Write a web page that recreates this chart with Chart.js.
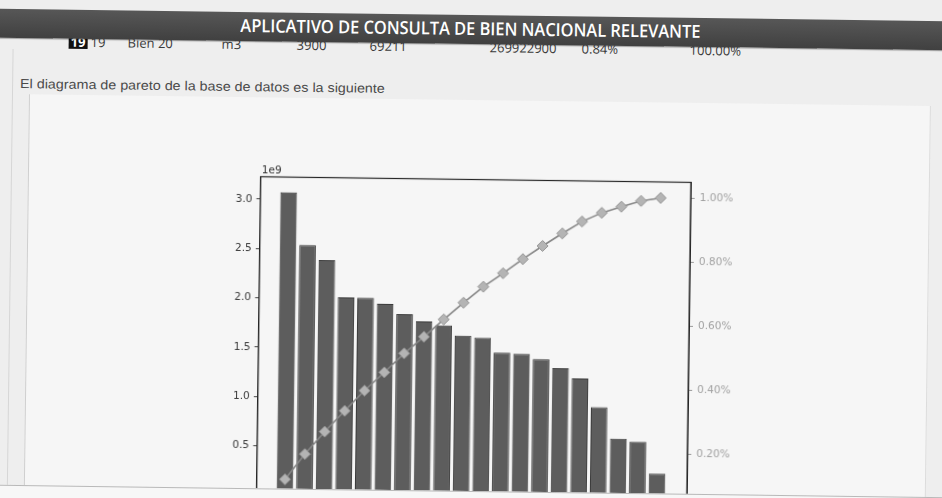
<!DOCTYPE html>
<html>
<head>
<meta charset="utf-8">
<script src="https://cdn.jsdelivr.net/npm/chart.js@4.4.1/dist/chart.umd.min.js"></script>
<style>
  html, body { margin:0; padding:0; width:942px; height:498px; overflow:hidden; background:#eeeeee; }
  #page { position:absolute; left:0; top:0; width:942px; height:498px; transform:rotate(0.75deg); transform-origin:471px 249px; }
  #header { position:absolute; left:-30px; top:15px; width:1010px; height:29px; background:linear-gradient(#575757,#404040); z-index:3; box-shadow:0 1px 1px rgba(0,0,0,0.3); }
  #htext { position:absolute; left:30px; top:4px; width:936px; text-align:center; color:#fff; font-family:"Open Sans",sans-serif; font-weight:600; font-size:18px; line-height:18px; white-space:nowrap; }
  #htext span { display:inline-block; transform-origin:center; }
  .cell { position:absolute; top:41px; font-family:"Open Sans",sans-serif; font-size:13px; line-height:13px; color:#3a3a3a; white-space:nowrap; z-index:1; }
  .idx { background:#111; color:#fff; font-weight:700; padding:0 2px; }
  #para { position:absolute; left:18px; top:83px; font-family:"Liberation Sans",Arial,sans-serif; font-size:13px; line-height:14px; color:#4a4a4a; white-space:nowrap; transform-origin:left center; }
  #outer { position:absolute; left:10px; top:55px; width:0; height:436px; border-left:1px solid #d6d6d6; }
  #box { position:absolute; left:27px; top:100px; width:900px; height:391px; border-left:1px solid #cfcfcf; border-right:1px solid #dcdcdc; background:#f6f6f6; }
  #bottomline { position:absolute; left:-20px; top:491px; width:990px; height:30px; border-top:1px solid #b9b9b9; background:#f7f7f7; z-index:2; }
  #clip { position:absolute; left:0; top:0; width:942px; height:491px; overflow:hidden; }
  #wrap { position:absolute; left:200px; top:150px; width:560px; height:380px; }
</style>
</head>
<body>
<div id="page">
  <div id="outer"></div>
  <div id="box"></div>
  <div id="header"><div id="htext"><span id="hspan">APLICATIVO DE CONSULTA DE BIEN NACIONAL RELEVANTE</span></div></div>
  <div id="row"></div>
  <div id="para">El diagrama de pareto de la base de datos es la siguiente</div>
  <div id="clip"><div id="wrap"><canvas id="c" width="560" height="380" style="width:560px;height:380px"></canvas></div></div>
  <div id="bottomline"></div>
</div>
<script>
// ---- data ----
const categories = ['Bien 1','Bien 2','Bien 3','Bien 4','Bien 5','Bien 6','Bien 7','Bien 8','Bien 9','Bien 10',
                    'Bien 11','Bien 12','Bien 13','Bien 14','Bien 15','Bien 16','Bien 17','Bien 18','Bien 19','Bien 20'];
const values = [3074000000, 2542000000, 2392000000, 2015000000, 2013000000, 1954000000, 1855000000, 1784000000,
                1745000000, 1643000000, 1625000000, 1476000000, 1466000000, 1414000000, 1326000000, 1226000000,
                935000000, 619000000, 591000000, 269922900];
const cumulative = [0.104, 0.184, 0.255, 0.321, 0.385, 0.443, 0.503, 0.556, 0.611, 0.664,
                    0.715, 0.758, 0.803, 0.845, 0.885, 0.923, 0.951, 0.971, 0.990, 1.000];
const leftTickValues = [0, 500000000, 1000000000, 1500000000, 2000000000, 2500000000, 3000000000];
const leftTickLabels = ['0.0', '0.5', '1.0', '1.5', '2.0', '2.5', '3.0'];
const rightTickValues = [0.2, 0.4, 0.6, 0.8, 1.0];
const rightTickLabels = ['0.20%', '0.40%', '0.60%', '0.80%', '1.00%'];
const rowCells = ['19', 'Bien 20', 'm3', '3900', '69211', '269922900', '0.84%', '100.00%'];
const rowX = [88, 125, 219, 294, 367, 487, 579, 687];

// ---- page text ----
const row = document.getElementById('row');
const idx = document.createElement('div');
idx.className = 'cell idx'; idx.style.left = '66px'; idx.textContent = '19';
row.appendChild(idx);
rowCells.forEach((t, i) => {
  const d = document.createElement('div');
  d.className = 'cell'; d.style.left = rowX[i] + 'px'; d.textContent = t;
  row.appendChild(d);
});
const hs = document.getElementById('hspan');
hs.style.transform = 'scaleX(' + (460 / hs.offsetWidth) + ')';
const para = document.getElementById('para');
para.style.transform = 'scaleX(' + (365 / para.offsetWidth) + ')';

// ---- chart ----
const framePlugin = {
  id: 'frame',
  afterDraw(chart) {
    const a = chart.chartArea, ctx = chart.ctx;
    ctx.save();
    ctx.strokeStyle = '#262626';
    ctx.lineWidth = 1.2;
    ctx.strokeRect(a.left, a.top, a.right - a.left, a.bottom - a.top);
    ctx.fillStyle = '#333';
    ctx.font = '10.5px "DejaVu Sans"';
    ctx.textBaseline = 'alphabetic';
    ctx.textAlign = 'left';
    ctx.fillText('1e9', a.left + 1, a.top - 4);
    ctx.restore();
  }
};

new Chart(document.getElementById('c'), {
  data: {
    labels: categories,
    datasets: [
      {
        type: 'line',
        label: 'Acumulado',
        data: cumulative.map((v, i) => ({ x: i, y: v })),
        yAxisID: 'y1',
        borderColor: '#868686',
        borderWidth: 1.6,
        pointStyle: 'rectRot',
        pointRadius: 5.5,
        pointBackgroundColor: '#b4b4b4',
        pointBorderColor: '#959595',
        pointBorderWidth: 1,
        order: 1
      },
      {
        type: 'bar',
        label: 'Valor',
        data: values.map((v, i) => ({ x: i, y: v })),
        yAxisID: 'y',
        backgroundColor: '#5d5d5d',
        borderColor: '#3b3b3b',
        borderWidth: 1,
        barPercentage: 0.85,
        categoryPercentage: 1,
        order: 2
      }
    ]
  },
  options: {
    responsive: false,
    animation: false,
    layout: { padding: { top: 29.5, left: 0, right: 0, bottom: 0 } },
    plugins: { legend: { display: false }, tooltip: { enabled: false } },
    scales: {
      x: {
        type: 'linear', min: -1.44, max: 20.53, offset: false,
        ticks: { display: false },
        grid: { display: false },
        border: { display: false },
        afterFit(s) { s.height = 32.2; }
      },
      y: {
        position: 'left', min: 0, max: 3228000000,
        afterBuildTicks(s) { s.ticks = leftTickValues.map(v => ({ value: v })); },
        ticks: {
          callback(v) { const k = leftTickValues.indexOf(v); return k >= 0 ? leftTickLabels[k] : ''; },
          color: '#3a3a3a', font: { family: 'DejaVu Sans', size: 10.5 }, padding: 4
        },
        grid: { drawOnChartArea: false, tickLength: 4, color: '#444' },
        border: { display: true, color: '#262626' },
        afterFit(s) { s.width = 59.8; }
      },
      y1: {
        position: 'right', min: 0.054, max: 1.05,
        afterBuildTicks(s) { s.ticks = rightTickValues.map(v => ({ value: v })); },
        ticks: {
          callback(v) { const k = rightTickValues.findIndex(t => Math.abs(t - v) < 1e-9); return k >= 0 ? rightTickLabels[k] : ''; },
          color: '#a2a2a2', font: { family: 'DejaVu Sans', size: 10.5 }, padding: 5
        },
        grid: { drawOnChartArea: false, tickLength: 4, color: '#999' },
        border: { display: true, color: '#262626' },
        afterFit(s) { s.width = 70; }
      }
    }
  },
  plugins: [framePlugin]
});
</script>
</body>
</html>
